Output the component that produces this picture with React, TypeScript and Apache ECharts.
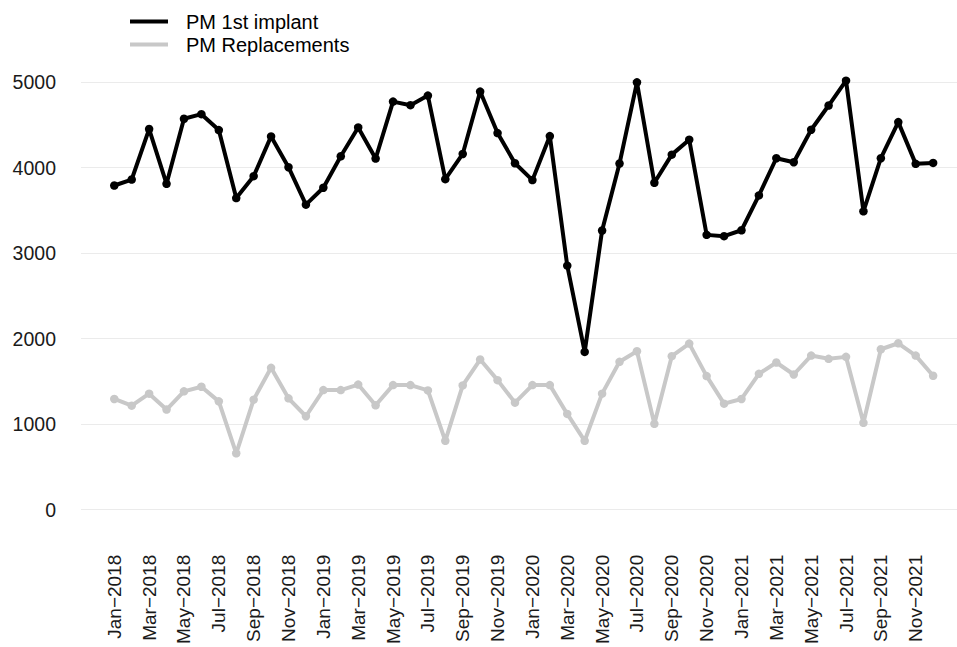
import React, { useEffect, useRef } from "react";
import * as echarts from "echarts";

const monthNames = ["Jan", "Feb", "Mar", "Apr", "May", "Jun", "Jul", "Aug", "Sep", "Oct", "Nov", "Dec"];
const years = [2018, 2019, 2020, 2021];
const categories: string[] = years.flatMap((y) => monthNames.map((m) => `${m}\u2212${y}`));

const firstImplant = [
  3790, 3860, 4450, 3810, 4570, 4624, 4438, 3643, 3899, 4364, 4004, 3566,
  3764, 4132, 4469, 4105, 4771, 4729, 4841, 3864, 4159, 4888, 4403, 4050,
  3853, 4368, 2853, 1845, 3264, 4047, 4996, 3822, 4151, 4326, 3213, 3198,
  3267, 3674, 4109, 4062, 4442, 4725, 5016, 3488, 4109, 4531, 4043, 4054,
];

const replacements = [
  1295, 1217, 1357, 1171, 1384, 1438, 1267, 659, 1287, 1659, 1302, 1093,
  1399, 1399, 1463, 1221, 1457, 1457, 1395, 806, 1453, 1756, 1515, 1252,
  1457, 1457, 1120, 806, 1357, 1729, 1853, 1004, 1795, 1942, 1562, 1240,
  1295, 1589, 1721, 1581, 1802, 1764, 1787, 1016, 1876, 1946, 1802, 1566,
];

const yTicks = [0, 1000, 2000, 3000, 4000, 5000];
const labelIdx = categories.map((_, i) => i).filter((i) => i % 2 === 0);

const FONT = "'Liberation Sans', Arial, sans-serif";

export default function App() {
  const ref = useRef<HTMLDivElement>(null);
  useEffect(() => {
    if (!ref.current) return;
    const chart = echarts.init(ref.current, undefined, { renderer: "svg" });
    chart.setOption({
      animation: false,
      backgroundColor: "#ffffff",
      textStyle: { fontFamily: FONT },
      legend: {
        orient: "vertical",
        left: 125,
        top: 6,
        itemWidth: 38,
        itemHeight: 4,
        itemGap: 2,
        icon: "rect",
        textStyle: { fontFamily: FONT, fontSize: 20, color: "#000", lineHeight: 21, padding: [0, 0, 0, 13] },
        data: [
          { name: "PM 1st implant", itemStyle: { color: "#000000" } },
          { name: "PM Replacements", itemStyle: { color: "#c8c8c8" } },
        ],
      },
      grid: { left: 81, right: 0, top: 82, bottom: 647 - 512, containLabel: false },
      xAxis: {
        type: "value",
        min: -1.91,
        max: 48.37,
        axisLine: { show: false },
        axisTick: { show: false },
        splitLine: { show: false },
        axisLabel: {
          customValues: labelIdx,
          rotate: 90,
          margin: 45,
          fontFamily: FONT,
          fontSize: 19,
          color: "#1a1a1a",
          formatter: (v: number) => categories[Math.round(v)] ?? "",
        },
      },
      yAxis: {
        type: "value",
        min: 0,
        max: 5000,
        interval: 1000,
        axisLine: { show: false },
        axisTick: { show: false },
        axisLabel: {
          margin: 25,
          fontFamily: FONT,
          fontSize: 19.5,
          color: "#1a1a1a",
          formatter: (v: number) => (yTicks.includes(v) ? String(v) : ""),
        },
        splitLine: { show: true, lineStyle: { color: "#ebebeb", width: 1.2 } },
      },
      series: [
        {
          name: "PM 1st implant",
          type: "line",
          clip: false,
          data: firstImplant.map((v, i) => [i, v]),
          symbol: "circle",
          symbolSize: 8.5,
          lineStyle: { color: "#000000", width: 4 },
          itemStyle: { color: "#000000" },
          z: 3,
        },
        {
          name: "PM Replacements",
          type: "line",
          clip: false,
          data: replacements.map((v, i) => [i, v]),
          symbol: "circle",
          symbolSize: 8.5,
          lineStyle: { color: "#c8c8c8", width: 4 },
          itemStyle: { color: "#c8c8c8" },
          z: 2,
        },
      ],
    });
    return () => chart.dispose();
  }, []);
  return <div ref={ref} style={{ width: 957, height: 647, position: "absolute", left: 0, top: 0 }} />;
}
